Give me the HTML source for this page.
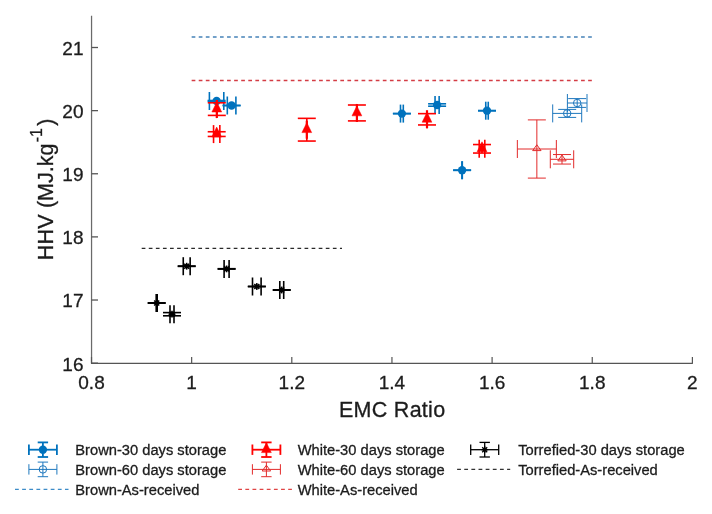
<!DOCTYPE html>
<html><head><meta charset="utf-8"><style>
html,body{margin:0;padding:0;background:#fff;}
svg{display:block;}
.gs{filter:grayscale(1);}
text{font-family:"Liberation Sans",sans-serif;fill:#1c1c1c;stroke:#1c1c1c;stroke-width:0.3px;}
</style></head><body>
<svg width="712" height="514" viewBox="0 0 712 514">
<rect width="712" height="514" fill="#fff"/>
<line x1="91.55" y1="15.7" x2="91.55" y2="364" stroke="#6a6a6a" stroke-width="1.25"/><line x1="91" y1="363.4" x2="692.9" y2="363.4" stroke="#555" stroke-width="1.25"/><line x1="91.50" y1="363" x2="91.50" y2="357" stroke="#555" stroke-width="1.2"/><line x1="191.65" y1="363" x2="191.65" y2="357" stroke="#555" stroke-width="1.2"/><line x1="291.80" y1="363" x2="291.80" y2="357" stroke="#555" stroke-width="1.2"/><line x1="391.95" y1="363" x2="391.95" y2="357" stroke="#555" stroke-width="1.2"/><line x1="492.10" y1="363" x2="492.10" y2="357" stroke="#555" stroke-width="1.2"/><line x1="592.25" y1="363" x2="592.25" y2="357" stroke="#555" stroke-width="1.2"/><line x1="692.40" y1="363" x2="692.40" y2="357" stroke="#555" stroke-width="1.2"/><line x1="91.5" y1="363.15" x2="98" y2="363.15" stroke="#555" stroke-width="1.3"/><line x1="91.5" y1="300.02" x2="98" y2="300.02" stroke="#555" stroke-width="1.3"/><line x1="91.5" y1="236.89" x2="98" y2="236.89" stroke="#555" stroke-width="1.3"/><line x1="91.5" y1="173.76" x2="98" y2="173.76" stroke="#555" stroke-width="1.3"/><line x1="91.5" y1="110.63" x2="98" y2="110.63" stroke="#555" stroke-width="1.3"/><line x1="91.5" y1="47.50" x2="98" y2="47.50" stroke="#555" stroke-width="1.3"/>
<line x1="191.65" y1="37.00" x2="592.25" y2="37.00" stroke="#4682b8" stroke-width="1.3" stroke-dasharray="3.7 3.38"/><line x1="191.65" y1="80.50" x2="592.25" y2="80.50" stroke="#d43c44" stroke-width="1.3" stroke-dasharray="3.7 3.38"/><line x1="141.70" y1="248.40" x2="342.00" y2="248.40" stroke="#2a2a2a" stroke-width="1.2" stroke-dasharray="3.7 3.38"/><g stroke="#0072BD" stroke-width="1.6" fill="none"><line x1="216.60" y1="100.50" x2="216.60" y2="101.50"/><line x1="207.60" y1="100.50" x2="225.60" y2="100.50"/><line x1="207.60" y1="101.50" x2="225.60" y2="101.50"/><line x1="209.40" y1="101.00" x2="223.80" y2="101.00"/><line x1="209.40" y1="92.00" x2="209.40" y2="110.00"/><line x1="223.80" y1="92.00" x2="223.80" y2="110.00"/></g><g stroke="#0072BD" stroke-width="1.6" fill="none"><line x1="231.60" y1="105.30" x2="231.60" y2="105.70"/><line x1="222.60" y1="105.30" x2="240.60" y2="105.30"/><line x1="222.60" y1="105.70" x2="240.60" y2="105.70"/><line x1="227.30" y1="105.50" x2="235.90" y2="105.50"/><line x1="227.30" y1="96.50" x2="227.30" y2="114.50"/><line x1="235.90" y1="96.50" x2="235.90" y2="114.50"/></g><g stroke="#0072BD" stroke-width="1.6" fill="none"><line x1="401.90" y1="113.40" x2="401.90" y2="113.80"/><line x1="392.90" y1="113.40" x2="410.90" y2="113.40"/><line x1="392.90" y1="113.80" x2="410.90" y2="113.80"/><line x1="400.50" y1="113.60" x2="403.30" y2="113.60"/><line x1="400.50" y1="104.60" x2="400.50" y2="122.60"/><line x1="403.30" y1="104.60" x2="403.30" y2="122.60"/></g><g stroke="#0072BD" stroke-width="1.6" fill="none"><line x1="437.10" y1="103.80" x2="437.10" y2="106.20"/><line x1="428.10" y1="103.80" x2="446.10" y2="103.80"/><line x1="428.10" y1="106.20" x2="446.10" y2="106.20"/><line x1="435.05" y1="105.00" x2="439.15" y2="105.00"/><line x1="435.05" y1="96.00" x2="435.05" y2="114.00"/><line x1="439.15" y1="96.00" x2="439.15" y2="114.00"/></g><g stroke="#0072BD" stroke-width="1.6" fill="none"><line x1="462.10" y1="170.00" x2="462.10" y2="170.40"/><line x1="453.10" y1="170.00" x2="471.10" y2="170.00"/><line x1="453.10" y1="170.40" x2="471.10" y2="170.40"/><line x1="461.90" y1="170.20" x2="462.30" y2="170.20"/><line x1="461.90" y1="161.20" x2="461.90" y2="179.20"/><line x1="462.30" y1="161.20" x2="462.30" y2="179.20"/></g><g stroke="#0072BD" stroke-width="1.6" fill="none"><line x1="487.00" y1="110.50" x2="487.00" y2="110.90"/><line x1="478.00" y1="110.50" x2="496.00" y2="110.50"/><line x1="478.00" y1="110.90" x2="496.00" y2="110.90"/><line x1="485.75" y1="110.70" x2="488.25" y2="110.70"/><line x1="485.75" y1="101.70" x2="485.75" y2="119.70"/><line x1="488.25" y1="101.70" x2="488.25" y2="119.70"/></g><circle cx="216.60" cy="101.00" r="4.15" fill="#0072BD"/><circle cx="231.60" cy="105.50" r="4.15" fill="#0072BD"/><circle cx="401.90" cy="113.60" r="4.15" fill="#0072BD"/><circle cx="437.10" cy="105.00" r="4.15" fill="#0072BD"/><circle cx="462.10" cy="170.20" r="4.15" fill="#0072BD"/><circle cx="487.00" cy="110.70" r="4.15" fill="#0072BD"/><g stroke="#FF0000" stroke-width="1.6" fill="none"><line x1="216.80" y1="102.80" x2="216.80" y2="115.40"/><line x1="207.80" y1="102.80" x2="225.80" y2="102.80"/><line x1="207.80" y1="115.40" x2="225.80" y2="115.40"/><line x1="216.50" y1="109.10" x2="217.10" y2="109.10"/><line x1="216.50" y1="100.10" x2="216.50" y2="118.10"/><line x1="217.10" y1="100.10" x2="217.10" y2="118.10"/></g><g stroke="#FF0000" stroke-width="1.6" fill="none"><line x1="216.70" y1="131.75" x2="216.70" y2="136.45"/><line x1="207.70" y1="131.75" x2="225.70" y2="131.75"/><line x1="207.70" y1="136.45" x2="225.70" y2="136.45"/><line x1="213.55" y1="134.10" x2="219.85" y2="134.10"/><line x1="213.55" y1="125.10" x2="213.55" y2="143.10"/><line x1="219.85" y1="125.10" x2="219.85" y2="143.10"/></g><g stroke="#FF0000" stroke-width="1.6" fill="none"><line x1="306.80" y1="118.35" x2="306.80" y2="141.05"/><line x1="297.80" y1="118.35" x2="315.80" y2="118.35"/><line x1="297.80" y1="141.05" x2="315.80" y2="141.05"/><line x1="306.50" y1="129.70" x2="307.10" y2="129.70"/><line x1="306.50" y1="120.70" x2="306.50" y2="138.70"/><line x1="307.10" y1="120.70" x2="307.10" y2="138.70"/></g><g stroke="#FF0000" stroke-width="1.6" fill="none"><line x1="356.90" y1="105.00" x2="356.90" y2="120.90"/><line x1="347.90" y1="105.00" x2="365.90" y2="105.00"/><line x1="347.90" y1="120.90" x2="365.90" y2="120.90"/><line x1="356.60" y1="112.95" x2="357.20" y2="112.95"/><line x1="356.60" y1="103.95" x2="356.60" y2="121.95"/><line x1="357.20" y1="103.95" x2="357.20" y2="121.95"/></g><g stroke="#FF0000" stroke-width="1.6" fill="none"><line x1="427.00" y1="113.65" x2="427.00" y2="124.95"/><line x1="418.00" y1="113.65" x2="436.00" y2="113.65"/><line x1="418.00" y1="124.95" x2="436.00" y2="124.95"/><line x1="426.70" y1="119.30" x2="427.30" y2="119.30"/><line x1="426.70" y1="110.30" x2="426.70" y2="128.30"/><line x1="427.30" y1="110.30" x2="427.30" y2="128.30"/></g><g stroke="#FF0000" stroke-width="1.6" fill="none"><line x1="482.00" y1="144.55" x2="482.00" y2="153.05"/><line x1="473.00" y1="144.55" x2="491.00" y2="144.55"/><line x1="473.00" y1="153.05" x2="491.00" y2="153.05"/><line x1="479.20" y1="148.80" x2="484.80" y2="148.80"/><line x1="479.20" y1="139.80" x2="479.20" y2="157.80"/><line x1="484.80" y1="139.80" x2="484.80" y2="157.80"/></g><polygon points="216.80,102.10 211.90,112.00 221.70,112.00" fill="#FF0000" stroke="#FF0000" stroke-width="0.5" stroke-linejoin="round"/><polygon points="216.70,127.10 211.80,137.00 221.60,137.00" fill="#FF0000" stroke="#FF0000" stroke-width="0.5" stroke-linejoin="round"/><polygon points="306.80,122.70 301.90,132.60 311.70,132.60" fill="#FF0000" stroke="#FF0000" stroke-width="0.5" stroke-linejoin="round"/><polygon points="356.90,105.95 352.00,115.85 361.80,115.85" fill="#FF0000" stroke="#FF0000" stroke-width="0.5" stroke-linejoin="round"/><polygon points="427.00,112.30 422.10,122.20 431.90,122.20" fill="#FF0000" stroke="#FF0000" stroke-width="0.5" stroke-linejoin="round"/><polygon points="482.00,141.80 477.10,151.70 486.90,151.70" fill="#FF0000" stroke="#FF0000" stroke-width="0.5" stroke-linejoin="round"/><g stroke="#1f78be" stroke-width="1.0" fill="none"><line x1="567.20" y1="109.40" x2="567.20" y2="117.40"/><line x1="558.20" y1="109.40" x2="576.20" y2="109.40"/><line x1="558.20" y1="117.40" x2="576.20" y2="117.40"/><line x1="552.70" y1="113.40" x2="581.70" y2="113.40"/><line x1="552.70" y1="104.40" x2="552.70" y2="122.40"/><line x1="581.70" y1="104.40" x2="581.70" y2="122.40"/></g><g stroke="#1f78be" stroke-width="1.0" fill="none"><line x1="577.20" y1="98.60" x2="577.20" y2="107.40"/><line x1="568.20" y1="98.60" x2="586.20" y2="98.60"/><line x1="568.20" y1="107.40" x2="586.20" y2="107.40"/><line x1="567.40" y1="103.00" x2="587.00" y2="103.00"/><line x1="567.40" y1="94.00" x2="567.40" y2="112.00"/><line x1="587.00" y1="94.00" x2="587.00" y2="112.00"/></g><circle cx="567.20" cy="113.40" r="3.75" fill="none" stroke="#1f78be" stroke-width="1.0"/><circle cx="577.20" cy="103.00" r="3.75" fill="none" stroke="#1f78be" stroke-width="1.0"/><g stroke="#E22A2A" stroke-width="1.0" fill="none"><line x1="536.85" y1="119.90" x2="536.85" y2="178.10"/><line x1="527.85" y1="119.90" x2="545.85" y2="119.90"/><line x1="527.85" y1="178.10" x2="545.85" y2="178.10"/><line x1="517.35" y1="149.00" x2="556.35" y2="149.00"/><line x1="517.35" y1="140.00" x2="517.35" y2="158.00"/><line x1="556.35" y1="140.00" x2="556.35" y2="158.00"/></g><g stroke="#E22A2A" stroke-width="1.0" fill="none"><line x1="562.00" y1="154.55" x2="562.00" y2="164.05"/><line x1="553.00" y1="154.55" x2="571.00" y2="154.55"/><line x1="553.00" y1="164.05" x2="571.00" y2="164.05"/><line x1="550.30" y1="159.30" x2="573.70" y2="159.30"/><line x1="550.30" y1="150.30" x2="550.30" y2="168.30"/><line x1="573.70" y1="150.30" x2="573.70" y2="168.30"/></g><polygon points="536.85,144.80 532.65,150.60 541.05,150.60" fill="none" stroke="#E22A2A" stroke-width="1.0"/><polygon points="562.00,155.10 557.80,160.90 566.20,160.90" fill="none" stroke="#E22A2A" stroke-width="1.0"/><g stroke="#000000" stroke-width="1.6" fill="none"><line x1="156.70" y1="302.80" x2="156.70" y2="303.20"/><line x1="147.70" y1="302.80" x2="165.70" y2="302.80"/><line x1="147.70" y1="303.20" x2="165.70" y2="303.20"/><line x1="156.20" y1="303.00" x2="157.20" y2="303.00"/><line x1="156.20" y1="294.00" x2="156.20" y2="312.00"/><line x1="157.20" y1="294.00" x2="157.20" y2="312.00"/></g><g stroke="#000000" stroke-width="1.6" fill="none"><line x1="172.00" y1="312.60" x2="172.00" y2="315.80"/><line x1="163.00" y1="312.60" x2="181.00" y2="312.60"/><line x1="163.00" y1="315.80" x2="181.00" y2="315.80"/><line x1="170.00" y1="314.20" x2="174.00" y2="314.20"/><line x1="170.00" y1="305.20" x2="170.00" y2="323.20"/><line x1="174.00" y1="305.20" x2="174.00" y2="323.20"/></g><g stroke="#000000" stroke-width="1.6" fill="none"><line x1="186.70" y1="266.00" x2="186.70" y2="266.40"/><line x1="177.70" y1="266.00" x2="195.70" y2="266.00"/><line x1="177.70" y1="266.40" x2="195.70" y2="266.40"/><line x1="183.25" y1="266.20" x2="190.15" y2="266.20"/><line x1="183.25" y1="257.20" x2="183.25" y2="275.20"/><line x1="190.15" y1="257.20" x2="190.15" y2="275.20"/></g><g stroke="#000000" stroke-width="1.6" fill="none"><line x1="226.60" y1="268.70" x2="226.60" y2="269.10"/><line x1="217.60" y1="268.70" x2="235.60" y2="268.70"/><line x1="217.60" y1="269.10" x2="235.60" y2="269.10"/><line x1="224.10" y1="268.90" x2="229.10" y2="268.90"/><line x1="224.10" y1="259.90" x2="224.10" y2="277.90"/><line x1="229.10" y1="259.90" x2="229.10" y2="277.90"/></g><g stroke="#000000" stroke-width="1.6" fill="none"><line x1="256.80" y1="286.30" x2="256.80" y2="286.70"/><line x1="247.80" y1="286.30" x2="265.80" y2="286.30"/><line x1="247.80" y1="286.70" x2="265.80" y2="286.70"/><line x1="252.50" y1="286.50" x2="261.10" y2="286.50"/><line x1="252.50" y1="277.50" x2="252.50" y2="295.50"/><line x1="261.10" y1="277.50" x2="261.10" y2="295.50"/></g><g stroke="#000000" stroke-width="1.6" fill="none"><line x1="281.75" y1="289.80" x2="281.75" y2="290.20"/><line x1="272.75" y1="289.80" x2="290.75" y2="289.80"/><line x1="272.75" y1="290.20" x2="290.75" y2="290.20"/><line x1="279.80" y1="290.00" x2="283.70" y2="290.00"/><line x1="279.80" y1="281.00" x2="279.80" y2="299.00"/><line x1="283.70" y1="281.00" x2="283.70" y2="299.00"/></g><circle cx="156.70" cy="303.00" r="2.10" fill="#000000"/><g stroke="#000000" stroke-width="1.6"><line x1="153.30" y1="303.00" x2="160.10" y2="303.00"/><line x1="156.70" y1="299.60" x2="156.70" y2="306.40"/><line x1="154.20" y1="300.50" x2="159.20" y2="305.50"/><line x1="154.20" y1="305.50" x2="159.20" y2="300.50"/></g><circle cx="172.00" cy="314.20" r="2.10" fill="#000000"/><g stroke="#000000" stroke-width="1.6"><line x1="168.60" y1="314.20" x2="175.40" y2="314.20"/><line x1="172.00" y1="310.80" x2="172.00" y2="317.60"/><line x1="169.50" y1="311.70" x2="174.50" y2="316.70"/><line x1="169.50" y1="316.70" x2="174.50" y2="311.70"/></g><circle cx="186.70" cy="266.20" r="2.10" fill="#000000"/><g stroke="#000000" stroke-width="1.6"><line x1="183.30" y1="266.20" x2="190.10" y2="266.20"/><line x1="186.70" y1="262.80" x2="186.70" y2="269.60"/><line x1="184.20" y1="263.70" x2="189.20" y2="268.70"/><line x1="184.20" y1="268.70" x2="189.20" y2="263.70"/></g><circle cx="226.60" cy="268.90" r="2.10" fill="#000000"/><g stroke="#000000" stroke-width="1.6"><line x1="223.20" y1="268.90" x2="230.00" y2="268.90"/><line x1="226.60" y1="265.50" x2="226.60" y2="272.30"/><line x1="224.10" y1="266.40" x2="229.10" y2="271.40"/><line x1="224.10" y1="271.40" x2="229.10" y2="266.40"/></g><circle cx="256.80" cy="286.50" r="2.10" fill="#000000"/><g stroke="#000000" stroke-width="1.6"><line x1="253.40" y1="286.50" x2="260.20" y2="286.50"/><line x1="256.80" y1="283.10" x2="256.80" y2="289.90"/><line x1="254.30" y1="284.00" x2="259.30" y2="289.00"/><line x1="254.30" y1="289.00" x2="259.30" y2="284.00"/></g><circle cx="281.75" cy="290.00" r="2.10" fill="#000000"/><g stroke="#000000" stroke-width="1.6"><line x1="278.35" y1="290.00" x2="285.15" y2="290.00"/><line x1="281.75" y1="286.60" x2="281.75" y2="293.40"/><line x1="279.25" y1="287.50" x2="284.25" y2="292.50"/><line x1="279.25" y1="292.50" x2="284.25" y2="287.50"/></g>
<g stroke="#0072BD" stroke-width="1.8" fill="none"><line x1="28.9" y1="449.7" x2="56.9" y2="449.7"/><line x1="28.9" y1="444.5" x2="28.9" y2="454.9"/><line x1="56.9" y1="444.5" x2="56.9" y2="454.9"/><line x1="42.9" y1="442.4" x2="42.9" y2="457.0"/><line x1="37.699999999999996" y1="442.4" x2="48.1" y2="442.4"/><line x1="37.699999999999996" y1="457.0" x2="48.1" y2="457.0"/></g><circle cx="42.90" cy="449.70" r="4.15" fill="#0072BD"/><g stroke="#1f78be" stroke-width="1.0" fill="none"><line x1="28.9" y1="469.4" x2="56.9" y2="469.4"/><line x1="28.9" y1="464.2" x2="28.9" y2="474.59999999999997"/><line x1="56.9" y1="464.2" x2="56.9" y2="474.59999999999997"/><line x1="42.9" y1="462.09999999999997" x2="42.9" y2="476.7"/><line x1="37.699999999999996" y1="462.09999999999997" x2="48.1" y2="462.09999999999997"/><line x1="37.699999999999996" y1="476.7" x2="48.1" y2="476.7"/></g><circle cx="42.90" cy="469.40" r="3.75" fill="none" stroke="#1f78be" stroke-width="1.0"/><line x1="15.00" y1="489.40" x2="68.50" y2="489.40" stroke="#3d8cc8" stroke-width="1.2" stroke-dasharray="3.8 3.34"/><g stroke="#FF0000" stroke-width="1.8" fill="none"><line x1="252.39999999999998" y1="449.7" x2="280.4" y2="449.7"/><line x1="252.39999999999998" y1="444.5" x2="252.39999999999998" y2="454.9"/><line x1="280.4" y1="444.5" x2="280.4" y2="454.9"/><line x1="266.4" y1="442.4" x2="266.4" y2="457.0"/><line x1="261.2" y1="442.4" x2="271.59999999999997" y2="442.4"/><line x1="261.2" y1="457.0" x2="271.59999999999997" y2="457.0"/></g><polygon points="266.40,442.70 261.50,452.60 271.30,452.60" fill="#FF0000" stroke="#FF0000" stroke-width="0.5" stroke-linejoin="round"/><g stroke="#E22A2A" stroke-width="1.0" fill="none"><line x1="252.39999999999998" y1="469.4" x2="280.4" y2="469.4"/><line x1="252.39999999999998" y1="464.2" x2="252.39999999999998" y2="474.59999999999997"/><line x1="280.4" y1="464.2" x2="280.4" y2="474.59999999999997"/><line x1="266.4" y1="462.09999999999997" x2="266.4" y2="476.7"/><line x1="261.2" y1="462.09999999999997" x2="271.59999999999997" y2="462.09999999999997"/><line x1="261.2" y1="476.7" x2="271.59999999999997" y2="476.7"/></g><polygon points="266.40,465.20 262.20,471.00 270.60,471.00" fill="none" stroke="#E22A2A" stroke-width="1.0"/><line x1="238.20" y1="489.40" x2="291.90" y2="489.40" stroke="#e04545" stroke-width="1.2" stroke-dasharray="3.8 3.34"/><g stroke="#000000" stroke-width="1.3" fill="none"><line x1="470.7" y1="449.7" x2="498.7" y2="449.7"/><line x1="470.7" y1="444.5" x2="470.7" y2="454.9"/><line x1="498.7" y1="444.5" x2="498.7" y2="454.9"/><line x1="484.7" y1="442.4" x2="484.7" y2="457.0"/><line x1="479.5" y1="442.4" x2="489.9" y2="442.4"/><line x1="479.5" y1="457.0" x2="489.9" y2="457.0"/></g><circle cx="484.70" cy="449.70" r="2.10" fill="#000000"/><g stroke="#000000" stroke-width="1.3"><line x1="481.30" y1="449.70" x2="488.10" y2="449.70"/><line x1="484.70" y1="446.30" x2="484.70" y2="453.10"/><line x1="482.20" y1="447.20" x2="487.20" y2="452.20"/><line x1="482.20" y1="452.20" x2="487.20" y2="447.20"/></g><line x1="457.10" y1="469.40" x2="510.20" y2="469.40" stroke="#333333" stroke-width="1.2" stroke-dasharray="3.8 3.34"/>
<g class="gs"><text x="91.50" y="389.2" text-anchor="middle" font-size="19">0.8</text><text x="191.65" y="389.2" text-anchor="middle" font-size="19">1</text><text x="291.80" y="389.2" text-anchor="middle" font-size="19">1.2</text><text x="391.95" y="389.2" text-anchor="middle" font-size="19">1.4</text><text x="492.10" y="389.2" text-anchor="middle" font-size="19">1.6</text><text x="592.25" y="389.2" text-anchor="middle" font-size="19">1.8</text><text x="692.40" y="389.2" text-anchor="middle" font-size="19">2</text><text x="83.5" y="370.60" text-anchor="end" font-size="19">16</text><text x="83.5" y="307.47" text-anchor="end" font-size="19">17</text><text x="83.5" y="244.34" text-anchor="end" font-size="19">18</text><text x="83.5" y="181.21" text-anchor="end" font-size="19">19</text><text x="83.5" y="118.08" text-anchor="end" font-size="19">20</text><text x="83.5" y="54.95" text-anchor="end" font-size="19">21</text><text x="392.2" y="416.5" text-anchor="middle" font-size="21.5" letter-spacing="0.28">EMC Ratio</text><g transform="translate(53.0,260.3) rotate(-90)" font-size="21.5"><text x="0" y="0" letter-spacing="0.25">HHV</text><text x="52.2" y="0" textLength="64.6" lengthAdjust="spacing">(MJ.kg</text><text x="118.0" y="-11.4" font-size="16">-1</text><text x="134.6" y="0">)</text></g><text x="75.3" y="455.25" font-size="14.7">Brown-30 days storage</text><text x="75.3" y="475.10" font-size="14.7">Brown-60 days storage</text><text x="75.3" y="494.85" font-size="14.7">Brown-As-received</text><text x="297.7" y="455.25" font-size="14.7">White-30 days storage</text><text x="297.7" y="475.10" font-size="14.7">White-60 days storage</text><text x="297.7" y="494.85" font-size="14.7">White-As-received</text><text x="518.2" y="455.25" font-size="14.7">Torrefied-30 days storage</text><text x="518.2" y="475.10" font-size="14.7">Torrefied-As-received</text></g>
</svg>
</body></html>
